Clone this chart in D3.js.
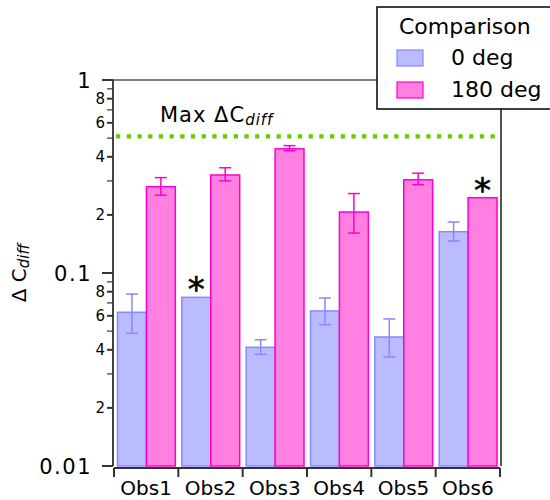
<!DOCTYPE html>
<html lang="en">
<head>
<meta charset="utf-8">
<title>Delta C diff comparison</title>
<script src="https://d3js.org/d3.v7.min.js"></script>
<style>
  body { margin: 0; background: #fff; }
  text { font-family: "DejaVu Sans", sans-serif; fill: #000; }
</style>
</head>
<body>
<div id="chart"></div>
<script>
// data
var categories = ["Obs1", "Obs2", "Obs3", "Obs4", "Obs5", "Obs6"];
var seriesNames = ["0 deg", "180 deg"];
var values0 = [0.0626, 0.0748, 0.0412, 0.0636, 0.0466, 0.1637];
var errLow0 = [0.0487, null, 0.0379, 0.054, 0.0367, 0.1465];
var errHigh0 = [0.0778, null, 0.0451, 0.0742, 0.0578, 0.1837];
var values180 = [0.28, 0.322, 0.44, 0.207, 0.304, 0.2455];
var errLow180 = [0.253, 0.300, 0.43, 0.161, 0.287, null];
var errHigh180 = [0.312, 0.351, 0.457, 0.258, 0.329, null];
var starred = [[1, 0], [5, 1]]; // [category index, series index]
var maxDiff = 0.51;
var majorTicks = [0.01, 0.1, 1];
var majorLabels = ["0.01", "0.1", "1"];

var w = 550, h = 500;
// plot box (note: "top" is reserved on window, so use other names)
var pLeft = 113, pRight = 501, pTop = 80, pBottom = 466;

var fills = ["#bbbbff", "#ff80e0"];
var strokes = ["#8888ff", "#ff00cc"];

var svg = d3.select("#chart").append("svg")
  .attr("width", w).attr("height", h);

var y = d3.scaleLog().domain([0.01, 1]).range([pBottom, pTop]);
var x = d3.scaleBand().domain(categories).range([114, 500]);
var xs = d3.scaleBand().domain(seriesNames).range([3.5, x.bandwidth() - 3]);

// build rows
var rows = [];
categories.forEach(function(c, i) {
  rows.push({cat: c, s: 0, v: values0[i], lo: errLow0[i], hi: errHigh0[i]});
  rows.push({cat: c, s: 1, v: values180[i], lo: errLow180[i], hi: errHigh180[i]});
});

// bars
svg.selectAll("rect.bar").data(rows).enter().append("rect")
  .attr("class", "bar")
  .attr("x", function(d) { return x(d.cat) + xs(seriesNames[d.s]); })
  .attr("width", xs.bandwidth())
  .attr("y", function(d) { return y(d.v); })
  .attr("height", function(d) { return pBottom - y(d.v); })
  .attr("fill", function(d) { return fills[d.s]; })
  .attr("stroke", function(d) { return strokes[d.s]; })
  .attr("stroke-width", 1.5);

// error bars
var eb = svg.selectAll("g.err").data(rows.filter(function(d) { return d.lo != null; }))
  .enter().append("g")
  .attr("stroke", function(d) { return strokes[d.s]; })
  .attr("stroke-width", 1.5);
function cx(d) { return x(d.cat) + xs(seriesNames[d.s]) + xs.bandwidth() / 2; }
eb.append("line").attr("x1", cx).attr("x2", cx)
  .attr("y1", function(d) { return y(d.lo); }).attr("y2", function(d) { return y(d.hi); });
eb.append("line").attr("x1", function(d) { return cx(d) - 6; }).attr("x2", function(d) { return cx(d) + 6; })
  .attr("y1", function(d) { return y(d.lo); }).attr("y2", function(d) { return y(d.lo); });
eb.append("line").attr("x1", function(d) { return cx(d) - 6; }).attr("x2", function(d) { return cx(d) + 6; })
  .attr("y1", function(d) { return y(d.hi); }).attr("y2", function(d) { return y(d.hi); });

// asterisks
svg.selectAll("text.star").data(starred).enter().append("text")
  .attr("x", function(d) { return cx(rows[d[0] * 2 + d[1]]); })
  .attr("y", function(d) { return y(rows[d[0] * 2 + d[1]].v) + 4; })
  .attr("text-anchor", "middle")
  .style("font-size", "34px")
  .style("stroke", "#000").style("stroke-width", 0.6)
  .text("*");

// max line
svg.append("line")
  .attr("x1", 116).attr("x2", pRight)
  .attr("y1", y(maxDiff)).attr("y2", y(maxDiff))
  .attr("stroke", "#66cc00").attr("stroke-width", 4.3)
  .attr("stroke-dasharray", "4.3,6.4");
var maxLabel = svg.append("text").attr("x", 160).attr("y", 122)
  .style("font-size", "21px").style("letter-spacing", "1px");
maxLabel.append("tspan").text("Max \u0394C");
maxLabel.append("tspan").attr("dy", 3).style("font-size", "15px").style("font-style", "italic").text("diff");

// frame
svg.append("line").attr("x1", pLeft).attr("x2", pRight).attr("y1", pTop).attr("y2", pTop)
  .attr("stroke", "#000").attr("stroke-width", 1.2);
svg.append("line").attr("x1", pRight).attr("x2", pRight).attr("y1", pTop).attr("y2", pBottom)
  .attr("stroke", "#555").attr("stroke-width", 2);

// y axis
svg.append("line").attr("x1", pLeft).attr("x2", pLeft).attr("y1", pTop).attr("y2", pBottom)
  .attr("stroke", "#444").attr("stroke-width", 2);
var minor = [];
[0.01, 0.1].forEach(function(dec) {
  for (var k = 2; k <= 9; k++) minor.push({v: dec * k, k: k});
});
svg.selectAll("line.minor").data(minor).enter().append("line")
  .attr("x1", pLeft - 6).attr("x2", pLeft)
  .attr("y1", function(d) { return y(d.v); }).attr("y2", function(d) { return y(d.v); })
  .attr("stroke", "#333").attr("stroke-width", function(d) { return d.k % 2 == 0 ? 2 : 1.2; });
svg.selectAll("text.minor").data(minor.filter(function(d) { return d.k % 2 == 0; })).enter().append("text")
  .attr("x", pLeft - 8).attr("y", function(d) { return y(d.v); })
  .attr("dy", "0.36em").attr("text-anchor", "end")
  .style("font-size", "15px")
  .text(function(d) { return d.k; });
svg.selectAll("line.major").data(majorTicks).enter().append("line")
  .attr("x1", pLeft - 11).attr("x2", pLeft)
  .attr("y1", function(d) { return y(d); }).attr("y2", function(d) { return y(d); })
  .attr("stroke", "#333").attr("stroke-width", 2);
svg.selectAll("text.major").data(majorTicks).enter().append("text")
  .attr("x", 92).attr("y", function(d) { return y(d); })
  .attr("dy", "0.36em").attr("text-anchor", "end")
  .style("font-size", "21px").style("letter-spacing", "1.5px")
  .text(function(d, i) { return majorLabels[i]; });

// y title
var yt = svg.append("text").attr("transform", "translate(26,273) rotate(-90)")
  .attr("text-anchor", "middle").style("font-size", "20px");
yt.append("tspan").text("\u0394 C");
yt.append("tspan").attr("dy", 3).style("font-size", "15px").style("font-style", "italic").text("diff");

// x axis
svg.append("line").attr("x1", 114).attr("x2", 500).attr("y1", 468).attr("y2", 468)
  .attr("stroke", "#333").attr("stroke-width", 2);
var bounds = categories.map(function(c) { return x(c); }).concat([x.range()[1]]);
svg.selectAll("line.xt").data(bounds).enter().append("line")
  .attr("x1", function(d) { return d; }).attr("x2", function(d) { return d; })
  .attr("y1", 468).attr("y2", 477)
  .attr("stroke", "#333").attr("stroke-width", 2);
svg.selectAll("text.xl").data(categories).enter().append("text")
  .attr("x", function(d) { return x(d) + x.bandwidth() / 2; })
  .attr("y", 495).attr("text-anchor", "middle")
  .style("font-size", "20px")
  .text(function(d) { return d; });

// legend
var lg = svg.append("g");
lg.append("rect").attr("x", 377).attr("y", 7).attr("width", 190).attr("height", 102)
  .attr("fill", "#fff").attr("stroke", "#000").attr("stroke-width", 1.5);
lg.append("text").attr("x", 399).attr("y", 34).style("font-size", "22px").text("Comparison");
seriesNames.forEach(function(s, i) {
  lg.append("rect").attr("x", 397).attr("y", 50 + i * 32).attr("width", 26).attr("height", 16)
    .attr("fill", fills[i]).attr("stroke", strokes[i]).attr("stroke-width", 1.2);
  lg.append("text").attr("x", 451).attr("y", 65 + i * 32).style("font-size", "22px").text(s);
});
</script>
</body>
</html>
